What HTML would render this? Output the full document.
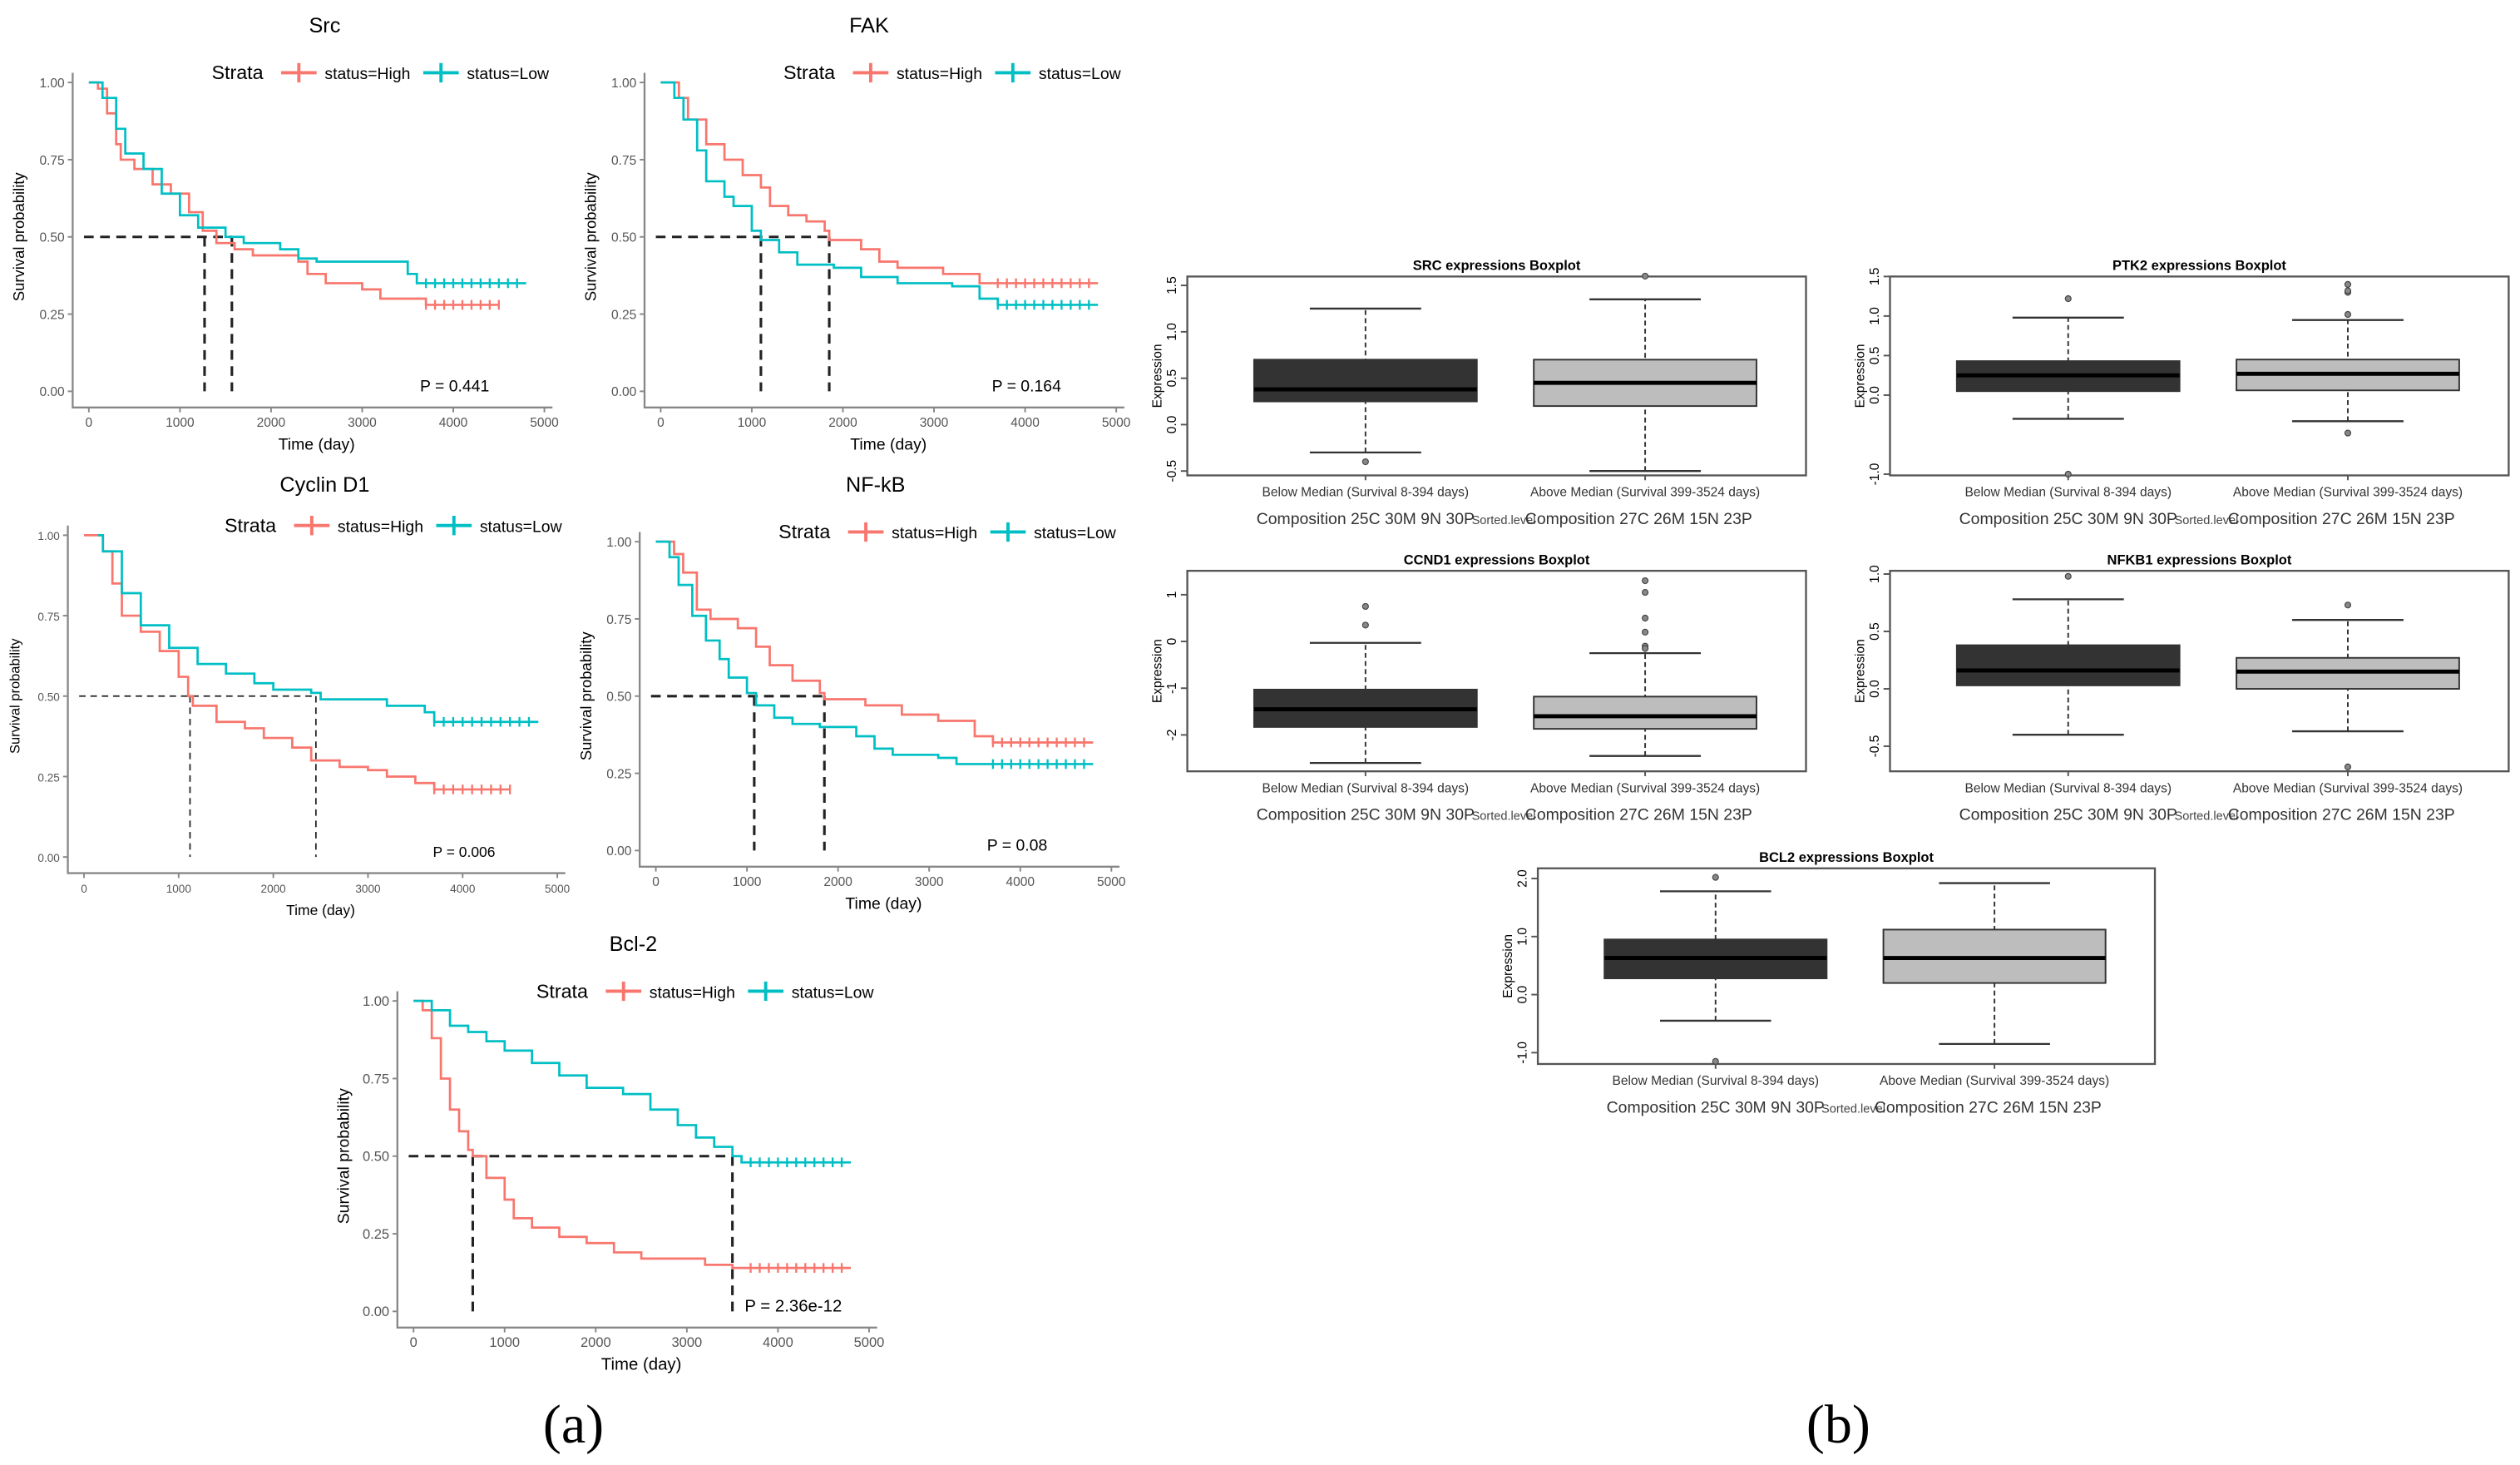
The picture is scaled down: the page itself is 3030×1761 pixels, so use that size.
<!DOCTYPE html>
<html><head><meta charset="utf-8"><style>
html,body{margin:0;padding:0;background:#fff;}
svg{display:block;}
text{font-family:"Liberation Sans",sans-serif;}
</style></head>
<body>
<svg id="fig" width="3030" height="1761" viewBox="0 0 1560 906" preserveAspectRatio="none" xmlns="http://www.w3.org/2000/svg">
<rect width="1560" height="906" fill="#fff"/>
<text x="355" y="892" font-size="34" text-anchor="middle" style="font-family:'Liberation Serif',serif">(a)</text>
<text x="1138" y="892" font-size="34" text-anchor="middle" style="font-family:'Liberation Serif',serif">(b)</text>
</svg>
<script>
const NS='http://www.w3.org/2000/svg';
const svg=document.getElementById('fig');
function mk(tag,attrs,parent,txt){const e=document.createElementNS(NS,tag);for(const k in attrs)e.setAttribute(k,attrs[k]);if(txt!==undefined)e.textContent=txt;(parent||svg).appendChild(e);return e;}

// ---------- KM data ----------
const srcHighT=[0,100,200,300,350,500,700,900,1100,1250,1400,1600,1800,2300,2400,2600,3000,3200,3700,4500];
const srcHighS=[1,0.98,0.9,0.8,0.75,0.72,0.67,0.64,0.58,0.52,0.48,0.46,0.44,0.42,0.38,0.35,0.33,0.30,0.28,0.28];
const srcLowT=[0,150,300,400,600,800,1000,1200,1500,1700,2100,2300,2500,3300,3500,3600,4800];
const srcLowS=[1,0.95,0.85,0.77,0.72,0.64,0.57,0.53,0.50,0.48,0.46,0.43,0.42,0.42,0.38,0.35,0.35];
const fakHighT=[0,200,300,500,700,900,1100,1200,1400,1600,1800,1850,2200,2400,2600,3100,3500,4800];
const fakHighS=[1,0.95,0.88,0.80,0.75,0.70,0.66,0.60,0.57,0.55,0.52,0.49,0.46,0.42,0.40,0.38,0.35,0.35];
const fakLowT=[0,150,250,400,500,700,800,1000,1100,1300,1500,1900,2200,2600,3200,3500,3700,4800];
const fakLowS=[1,0.95,0.88,0.78,0.68,0.63,0.60,0.52,0.49,0.45,0.41,0.40,0.37,0.35,0.34,0.30,0.28,0.28];
const cycHighT=[0,200,300,400,600,800,1000,1100,1150,1400,1700,1900,2200,2400,2700,3000,3200,3500,3700,4500];
const cycHighS=[1,0.95,0.85,0.75,0.70,0.64,0.56,0.50,0.47,0.42,0.40,0.37,0.34,0.30,0.28,0.27,0.25,0.23,0.21,0.21];
const cycLowT=[150,200,400,600,900,1200,1500,1800,2000,2400,2500,3200,3600,3700,4800];
const cycLowS=[1,0.95,0.82,0.72,0.65,0.60,0.57,0.54,0.52,0.51,0.49,0.47,0.45,0.42,0.42];
const nfHighT=[0,200,300,450,600,900,1100,1250,1500,1800,1850,2300,2700,3100,3500,3700,4800];
const nfHighS=[1,0.96,0.90,0.78,0.75,0.72,0.66,0.60,0.55,0.51,0.49,0.47,0.44,0.42,0.37,0.35,0.35];
const nfLowT=[0,150,250,400,550,700,800,1000,1100,1300,1500,1800,2200,2400,2600,3100,3300,4800];
const nfLowS=[1,0.95,0.86,0.76,0.68,0.62,0.56,0.51,0.47,0.43,0.41,0.40,0.37,0.33,0.31,0.30,0.28,0.28];
const bclHighT=[0,100,200,300,400,500,600,650,800,1000,1100,1300,1600,1900,2200,2500,3000,3200,3500,4800];
const bclHighS=[1,0.97,0.88,0.75,0.65,0.58,0.52,0.50,0.43,0.36,0.30,0.27,0.24,0.22,0.19,0.17,0.17,0.15,0.14,0.14];
const bclLowT=[0,200,400,600,800,1000,1300,1600,1900,2300,2600,2900,3100,3300,3500,3600,4800];
const bclLowS=[1,0.97,0.92,0.90,0.87,0.84,0.80,0.76,0.72,0.70,0.65,0.60,0.56,0.53,0.50,0.48,0.48];
const censorTimes=[3700,3800,3900,4000,4100,4200,4300,4400,4500,4600,4700];
const xTicks=[0,1000,2000,3000,4000,5000];
const yTicks=[0,0.25,0.5,0.75,1];

const kmPanels=[
 {name:'src',title:'Src',tx:201,ty:20,x0:55,x1:337,y0:242,y1:51,hT:srcHighT,hS:srcHighS,lT:srcLowT,lS:srcLowS,med:[1270,1570],p:'P = 0.441',thin:false,fs:8},
 {name:'fak',title:'FAK',tx:538,ty:20,x0:409,x1:691,y0:242,y1:51,hT:fakHighT,hS:fakHighS,lT:fakLowT,lS:fakLowS,med:[1100,1850],p:'P = 0.164',thin:false,fs:8},
 {name:'cyclin-d1',title:'Cyclin D1',tx:201,ty:304,x0:52,x1:345,y0:530,y1:331,hT:cycHighT,hS:cycHighS,lT:cycLowT,lS:cycLowS,med:[1120,2450],p:'P = 0.006',thin:true,fs:7},
 {name:'nf-kb',title:'NF-kB',tx:542,ty:304,x0:406,x1:688,y0:526,y1:335,hT:nfHighT,hS:nfHighS,lT:nfLowT,lS:nfLowS,med:[1080,1850],p:'P = 0.08',thin:false,fs:8},
 {name:'bcl-2',title:'Bcl-2',tx:392,ty:588,x0:256,x1:538,y0:811,y1:619,hT:bclHighT,hS:bclHighS,lT:bclLowT,lS:bclLowS,med:[650,3500],p:'P = 2.36e-12',thin:false,fs:8.5}
];

function stepAt(T,S,t){let s=S[0];for(let i=0;i<T.length;i++){if(T[i]<=t)s=S[i];}return s;}

kmPanels.forEach(c=>{
 const g=mk('g',{});
 
 
 const X=t=>c.x0+(c.x1-c.x0)*t/5000;
 const Y=s=>c.y0-(c.y0-c.y1)*s;
 const t1=mk('text',{x:c.tx,y:c.ty,'font-size':13,'text-anchor':'middle'},g,c.title);
  
 const ax=mk('path',{d:`M${c.x0-10},${c.y1-6}V${c.y0+10}H${c.x1+5}`,stroke:'#888',fill:'none','stroke-width':1.2},g);
  
 yTicks.forEach(v=>{
  mk('line',{x1:c.x0-13,x2:c.x0-10,y1:Y(v),y2:Y(v),stroke:'#888'},g);
  const tl=mk('text',{x:c.x0-15,y:Y(v)+3,'font-size':c.fs,'text-anchor':'end',fill:'#555'},g,v.toFixed(2));
   
 });
 xTicks.forEach(v=>{
  mk('line',{x1:X(v),x2:X(v),y1:c.y0+10,y2:c.y0+13,stroke:'#888'},g);
  const tl=mk('text',{x:X(v),y:c.y0+22,'font-size':c.fs,'text-anchor':'middle',fill:'#555'},g,String(v));
   
 });
 const yl=mk('text',{x:0,y:0,'font-size':c.fs+1.5,'text-anchor':'middle',transform:`translate(${c.x0-40},${(c.y0+c.y1)/2}) rotate(-90)`},g,'Survival probability');
  
 const xl=mk('text',{x:(c.x0+c.x1)/2,y:c.y0+36,'font-size':c.fs+2,'text-anchor':'middle'},g,'Time (day)');
  
 const lx=c.x1-206, ly=c.y1-2;
 const lg=mk('g',{},g);  
 mk('text',{x:lx,y:ly,'font-size':12},lg,'Strata');
 mk('path',{d:`M${lx+43},${ly-4}h22M${lx+54},${ly-10}v12`,stroke:'#f8766d','stroke-width':2},lg);
 mk('text',{x:lx+70,y:ly,'font-size':10},lg,'status=High');
 mk('path',{d:`M${lx+131},${ly-4}h22M${lx+142},${ly-10}v12`,stroke:'#00bfc4','stroke-width':2},lg);
 mk('text',{x:lx+158,y:ly,'font-size':10},lg,'status=Low');
 const dash=c.thin?'4,3':'6,4', sw=c.thin?0.9:1.6;
 const mxMax=Math.max(...c.med);
 const mh=mk('line',{x1:X(0)-3,x2:X(mxMax),y1:Y(0.5),y2:Y(0.5),stroke:'#222','stroke-dasharray':dash,'stroke-width':sw},g);
  
 c.med.forEach(m=>{
  const mv=mk('line',{x1:X(m),x2:X(m),y1:Y(0.5),y2:Y(0),stroke:'#222','stroke-dasharray':dash,'stroke-width':sw},g);
   
 });
 [[c.hT,c.hS,'#f8766d','high'],[c.lT,c.lS,'#00bfc4','low']].forEach(([T,S,col,nm])=>{
  let d=`M${X(T[0])},${Y(S[0])}`;
  for(let i=1;i<T.length;i++){d+=`H${X(T[i])}V${Y(S[i])}`;}
  const p=mk('path',{d:d,stroke:col,fill:'none','stroke-width':1.4},g);
   
  const end=T[T.length-1];
  censorTimes.filter(t=>t<=end).forEach(t=>{
   const yy=Y(stepAt(T,S,t));
   const cm=mk('path',{d:`M${X(t)},${yy-3}v6`,stroke:col,'stroke-width':1.2},g);
    
  });
 });
 const pt=mk('text',{x:c.x1-77,y:c.y0,'font-size':c.fs+2},g,c.p);
  
});

// ---------- Boxplot data ----------
const boxGroups=['Below Median (Survival 8-394 days)','Above Median (Survival 399-3524 days)'];
const srcBoxStats=[[-0.3,0.25,0.38,0.7,1.25],[-0.5,0.2,0.45,0.7,1.35]];
const srcOutliers=[[-0.4],[1.6]];
const ptk2BoxStats=[[-0.3,0.05,0.25,0.43,0.98],[-0.33,0.06,0.27,0.45,0.95]];
const ptk2Outliers=[[1.22,-1.0],[-0.48,1.02,1.3,1.32,1.4]];
const ccndBoxStats=[[-2.6,-1.83,-1.45,-1.03,-0.03],[-2.45,-1.87,-1.6,-1.18,-0.25]];
const ccndOutliers=[[0.35,0.75],[-0.1,-0.15,0.2,0.5,1.05,1.3]];
const nfkbBoxStats=[[-0.4,0.03,0.16,0.38,0.78],[-0.37,0.0,0.15,0.27,0.6]];
const nfkbOutliers=[[0.98],[0.73,-0.68]];
const bclBoxStats=[[-0.45,0.28,0.63,0.95,1.78],[-0.85,0.2,0.63,1.12,1.92]];
const bclOutliers=[[2.02,-1.15],[]];
const srcTicks=[-0.5,0,0.5,1,1.5], ptk2Ticks=[-1,0,0.5,1,1.5], ccndTicks=[-2,-1,0,1], nfkbTicks=[-0.5,0,0.5,1], bclTicks=[-1,0,1,2];

const boxPanels=[
 {name:'src',title:'SRC expressions Boxplot',fx:735,fy:171,fw:383,fh:123,vTop:1.5,yTop:176.5,ppu:57.4,stats:srcBoxStats,out:srcOutliers,ticks:srcTicks,fmt:v=>v.toFixed(1)},
 {name:'ptk2',title:'PTK2 expressions Boxplot',fx:1170,fy:171,fw:383,fh:123,vTop:1.5,yTop:171,ppu:48.9,stats:ptk2BoxStats,out:ptk2Outliers,ticks:ptk2Ticks,fmt:v=>v.toFixed(1)},
 {name:'ccnd1',title:'CCND1 expressions Boxplot',fx:735,fy:353,fw:383,fh:124,vTop:1,yTop:367.8,ppu:28.9,stats:ccndBoxStats,out:ccndOutliers,ticks:ccndTicks,fmt:v=>String(v)},
 {name:'nfkb1',title:'NFKB1 expressions Boxplot',fx:1170,fy:353,fw:383,fh:124,vTop:1,yTop:355,ppu:71,stats:nfkbBoxStats,out:nfkbOutliers,ticks:nfkbTicks,fmt:v=>v.toFixed(1)},
 {name:'bcl2',title:'BCL2 expressions Boxplot',fx:952,fy:537,fw:382,fh:121,vTop:2,yTop:543.3,ppu:35.9,stats:bclBoxStats,out:bclOutliers,ticks:bclTicks,fmt:v=>v.toFixed(1)}
];
const fills=['#333333','#bdbdbd'];
boxPanels.forEach(b=>{
 const g=mk('g',{});
 
 
 const Y=v=>b.yTop+(b.vTop-v)*b.ppu;
 const t=mk('text',{x:b.fx+b.fw/2,y:b.fy-4,'font-size':8.5,'font-weight':'bold','text-anchor':'middle'},g,b.title);
  
 const fr=mk('rect',{x:b.fx,y:b.fy,width:b.fw,height:b.fh,fill:'none',stroke:'#555','stroke-width':1.2},g);
  
 b.ticks.forEach(v=>{
  mk('line',{x1:b.fx-4,x2:b.fx,y1:Y(v),y2:Y(v),stroke:'#555'},g);
  const tl=mk('text',{x:0,y:0,'font-size':8,'text-anchor':'middle',transform:`translate(${b.fx-7},${Y(v)}) rotate(-90)`},g,b.fmt(v));
   
 });
 const yl=mk('text',{x:0,y:0,'font-size':8,'text-anchor':'middle',transform:`translate(${b.fx-16},${b.fy+b.fh/2}) rotate(-90)`},g,'Expression');
  
 const cx=[b.fx+b.fw*0.288,b.fx+b.fw*0.74];
 const bw=b.fw*0.36;
 b.stats.forEach((s,i)=>{
  const x=cx[i];
  const bg=mk('g',{},g);  
  mk('line',{x1:x,x2:x,y1:Y(s[0]),y2:Y(s[4]),stroke:'#333','stroke-dasharray':'3,2'},bg);
  mk('line',{x1:x-bw*0.25,x2:x+bw*0.25,y1:Y(s[0]),y2:Y(s[0]),stroke:'#333','stroke-width':1.2},bg);
  mk('line',{x1:x-bw*0.25,x2:x+bw*0.25,y1:Y(s[4]),y2:Y(s[4]),stroke:'#333','stroke-width':1.2},bg);
  mk('rect',{x:x-bw/2,y:Y(s[3]),width:bw,height:Y(s[1])-Y(s[3]),fill:fills[i],stroke:'#333'},bg);
  mk('line',{x1:x-bw/2,x2:x+bw/2,y1:Y(s[2]),y2:Y(s[2]),stroke:'#000','stroke-width':2.5},bg);
  b.out[i].forEach(o=>{const oc=mk('circle',{cx:x,cy:Y(o),r:1.8,fill:'#888',stroke:'#444','stroke-width':0.6},bg);
    });
  mk('line',{x1:x,x2:x,y1:b.fy+b.fh,y2:b.fy+b.fh+3,stroke:'#555'},g);
  const gl=mk('text',{x:x,y:b.fy+b.fh+13,'font-size':8,'text-anchor':'middle',fill:'#333'},g,boxGroups[i]);
   
 });
 const c1=mk('text',{x:cx[0],y:b.fy+b.fh+30,'font-size':10,'text-anchor':'middle',fill:'#333'},g,'Composition 25C 30M 9N 30P');
  
 const c3=mk('text',{x:(cx[0]+cx[1])/2-1,y:b.fy+b.fh+30,'font-size':7.5,'text-anchor':'middle',fill:'#444'},g,'Sorted.level');
  
 const c2=mk('text',{x:cx[1]-4,y:b.fy+b.fh+30,'font-size':10,'text-anchor':'middle',fill:'#333'},g,'Composition 27C 26M 15N 23P');
  
});
</script>
</body></html>
